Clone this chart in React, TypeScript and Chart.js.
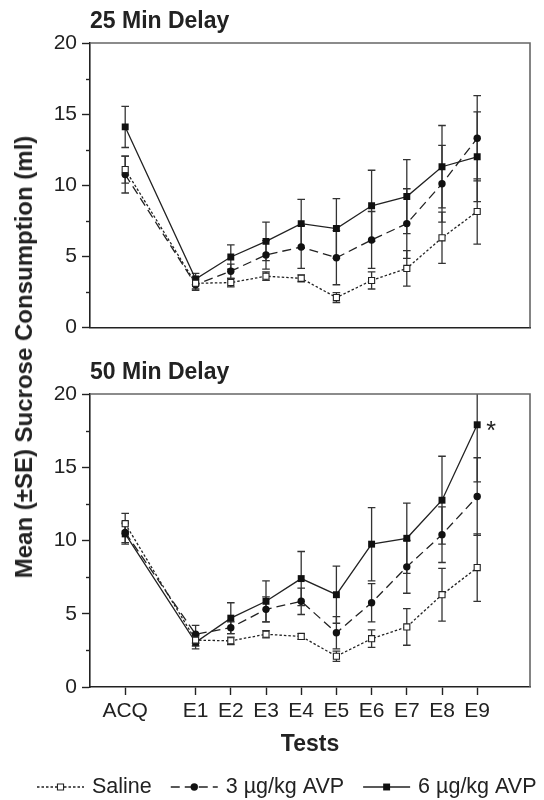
import React, { useEffect, useRef } from 'react';
import { Chart, registerables } from 'chart.js';

Chart.register(...registerables);

const FAMILY = '"Liberation Sans", Arial, Helvetica, sans-serif';
Chart.defaults.font.family = FAMILY;
Chart.defaults.color = '#222';

// ---------- data ----------
const tests = ['ACQ', 'E1', 'E2', 'E3', 'E4', 'E5', 'E6', 'E7', 'E8', 'E9'];
const testPositions = [0, 2, 3, 4, 5, 6, 7, 8, 9, 10];
const yTickValues = [0, 5, 10, 15, 20];
const yMinorTickValues = [2.5, 7.5, 12.5, 17.5];
const seriesNames = ['Saline', '3 µg/kg AVP', '6 µg/kg AVP'];
const panelTitles = ['25 Min Delay', '50 Min Delay'];
const yAxisTitle = 'Mean (±SE) Sucrose Consumption (ml)';
const xAxisTitle = 'Tests';

const delay25Saline = [11.1, 3.1, 3.15, 3.6, 3.45, 2.1, 3.3, 4.15, 6.3, 8.15];
const delay25SalineSE = [0.95, 0.4, 0.3, 0.3, 0.25, 0.35, 0.6, 1.25, 1.8, 2.3];
const delay25Avp3 = [10.75, 3.0, 3.95, 5.1, 5.65, 4.9, 6.15, 7.3, 10.1, 13.3];
const delay25Avp3SE = [1.3, 0.4, 0.5, 1.0, 1.5, 1.9, 2.0, 2.45, 2.7, 3.0];
const delay25Avp6 = [14.1, 3.4, 4.95, 6.05, 7.3, 6.95, 8.55, 9.2, 11.3, 12.0];
const delay25Avp6SE = [1.45, 0.4, 0.85, 1.35, 1.7, 2.1, 2.5, 2.6, 2.9, 3.15];

const delay50Saline = [11.15, 3.2, 3.15, 3.6, 3.45, 2.1, 3.3, 4.1, 6.3, 8.15];
const delay50SalineSE = [0.7, 0.4, 0.25, 0.25, 0.2, 0.35, 0.6, 1.25, 1.8, 2.3];
const delay50Avp3 = [10.55, 3.6, 4.05, 5.3, 5.85, 3.7, 5.75, 8.2, 10.4, 13.0];
const delay50Avp3SE = [0.7, 0.6, 0.4, 0.85, 0.9, 1.1, 1.3, 1.8, 1.9, 2.65];
const delay50Avp6 = [10.45, 3.05, 4.7, 5.85, 7.4, 6.3, 9.75, 10.15, 12.75, 17.9];
const delay50Avp6SE = [0.7, 0.45, 1.05, 1.4, 1.85, 1.95, 2.5, 2.4, 3.0, 3.9];

// significant difference marks in the 50 min panel: [series index, test]
const delay50Significant: [number, string][] = [[2, 'E9']];

// ---------- styles ----------
const INK = '#222';
const seriesStyles = [
  { borderDash: [2.5, 2], pointStyle: 'rect', pointRadius: 4.3, fill: '#fff', pointBorderWidth: 1.1 },
  { borderDash: [9, 5], pointStyle: 'circle', pointRadius: 3.7, fill: '#111', pointBorderWidth: 0 },
  { borderDash: [], pointStyle: 'rect', pointRadius: 4.9, fill: '#111', pointBorderWidth: 0 },
];

function makeDatasets(values: number[][], ses: number[][]) {
  return values.map((vals, s) => {
    const st = seriesStyles[s];
    return {
      label: seriesNames[s],
      data: testPositions.map((x, i) => ({ x, y: vals[i] })),
      se: ses[s],
      borderColor: INK,
      borderWidth: 1.3,
      borderDash: st.borderDash,
      pointStyle: st.pointStyle,
      pointRadius: st.pointRadius,
      pointBackgroundColor: st.fill,
      pointBorderColor: INK,
      pointBorderWidth: st.pointBorderWidth,
      tension: 0,
      fill: false,
    };
  });
}

// ---------- plugins ----------
const errorBarsPlugin = {
  id: 'errorBars',
  beforeDatasetsDraw(chart: any) {
    const { ctx, chartArea } = chart;
    const yScale = chart.scales.y;
    ctx.save();
    ctx.beginPath();
    ctx.rect(chartArea.left, chartArea.top, chartArea.right - chartArea.left, chartArea.bottom - chartArea.top);
    ctx.clip();
    ctx.strokeStyle = '#333';
    ctx.lineWidth = 1.3;
    ctx.setLineDash([]);
    chart.data.datasets.forEach((ds: any, di: number) => {
      const meta = chart.getDatasetMeta(di);
      ds.data.forEach((pt: any, i: number) => {
        const se = ds.se[i];
        const el = meta.data[i];
        const x = el.x;
        const yT = yScale.getPixelForValue(pt.y + se);
        const yB = yScale.getPixelForValue(pt.y - se);
        const hw = 3.8;
        ctx.beginPath();
        ctx.moveTo(x, yT);
        ctx.lineTo(x, yB);
        ctx.moveTo(x - hw, yT);
        ctx.lineTo(x + hw, yT);
        ctx.moveTo(x - hw, yB);
        ctx.lineTo(x + hw, yB);
        ctx.stroke();
      });
    });
    ctx.restore();
  },
};

const framePlugin = {
  id: 'frame',
  afterDraw(chart: any) {
    const { ctx, chartArea } = chart;
    const yScale = chart.scales.y;
    ctx.save();
    ctx.strokeStyle = '#666';
    ctx.lineWidth = 1.6;
    ctx.beginPath();
    ctx.moveTo(chartArea.left, chartArea.top);
    ctx.lineTo(chartArea.right, chartArea.top);
    ctx.lineTo(chartArea.right, chartArea.bottom);
    ctx.stroke();
    ctx.strokeStyle = INK;
    ctx.lineWidth = 1.4;
    yMinorTickValues.forEach((v) => {
      const y = Math.round(yScale.getPixelForValue(v)) + 0.5;
      ctx.beginPath();
      ctx.moveTo(chartArea.left - 4, y);
      ctx.lineTo(chartArea.left, y);
      ctx.stroke();
    });
    ctx.restore();
  },
};

const sigPlugin = {
  id: 'sigMarks',
  afterDatasetsDraw(chart: any, _args: any, opts: any) {
    const marks = (opts && opts.marks) || [];
    if (!marks.length) return;
    const { ctx } = chart;
    ctx.save();
    ctx.fillStyle = INK;
    ctx.font = `25px ${FAMILY}`;
    ctx.textAlign = 'left';
    ctx.textBaseline = 'alphabetic';
    marks.forEach(([s, test]: [number, string]) => {
      const idx = tests.indexOf(test);
      const el = chart.getDatasetMeta(s).data[idx];
      ctx.fillText('*', el.x + 9, el.y + 14);
    });
    ctx.restore();
  },
};

const lineLegendPlugin = {
  id: 'lineLegend',
  afterDraw(chart: any, _args: any, opts: any) {
    if (!opts || !opts.display) return;
    const { ctx } = chart;
    const y = opts.y;
    let x = opts.x;
    ctx.save();
    ctx.font = `21.5px ${FAMILY}`;
    ctx.textBaseline = 'middle';
    ctx.textAlign = 'left';
    chart.data.datasets.forEach((ds: any) => {
      const len = opts.lineLength;
      ctx.strokeStyle = ds.borderColor;
      ctx.lineWidth = ds.borderWidth;
      ctx.setLineDash(ds.borderDash || []);
      ctx.beginPath();
      ctx.moveTo(x, y);
      ctx.lineTo(x + len, y);
      ctx.stroke();
      ctx.setLineDash([]);
      const cx = x + len / 2;
      const r = ds.pointRadius;
      ctx.fillStyle = ds.pointBackgroundColor;
      ctx.beginPath();
      if (ds.pointStyle === 'circle') {
        ctx.arc(cx, y, r, 0, Math.PI * 2);
      } else {
        const h = r * Math.SQRT1_2;
        ctx.rect(cx - h, y - h, 2 * h, 2 * h);
      }
      ctx.fill();
      if (ds.pointBorderWidth > 0) {
        ctx.lineWidth = ds.pointBorderWidth;
        ctx.strokeStyle = ds.pointBorderColor;
        ctx.stroke();
      }
      ctx.fillStyle = INK;
      const tx = x + len + opts.textGap;
      ctx.fillText(ds.label, tx, y);
      x = tx + ctx.measureText(ds.label).width + opts.itemGap;
    });
    ctx.restore();
  },
};

function makeConfig(panel: 0 | 1): any {
  const isBottom = panel === 1;
  const values = isBottom
    ? [delay50Saline, delay50Avp3, delay50Avp6]
    : [delay25Saline, delay25Avp3, delay25Avp6];
  const ses = isBottom
    ? [delay50SalineSE, delay50Avp3SE, delay50Avp6SE]
    : [delay25SalineSE, delay25Avp3SE, delay25Avp6SE];
  return {
    type: 'line',
    data: { datasets: makeDatasets(values, ses) },
    plugins: [errorBarsPlugin, framePlugin, sigPlugin, lineLegendPlugin],
    options: {
      animation: false,
      responsive: false,
      maintainAspectRatio: false,
      events: [],
      layout: { padding: { left: 0, right: 14, top: 0, bottom: isBottom ? 35 : 9.5 } },
      plugins: {
        legend: { display: false },
        tooltip: { enabled: false },
        title: {
          display: true,
          text: panelTitles[panel],
          align: 'start',
          fullSize: false,
          color: INK,
          font: { size: 23, weight: 'bold', family: FAMILY, lineHeight: 1.2 },
          padding: isBottom ? { top: 14.2, bottom: 7.2 } : { top: 7.6, bottom: 7.8 },
        },
        sigMarks: { marks: isBottom ? delay50Significant : [] },
        lineLegend: { display: isBottom, x: 37, y: 442, lineLength: 47, textGap: 8, itemGap: 19 },
      },
      scales: {
        x: {
          type: 'linear',
          min: -1,
          max: 11.5,
          bounds: 'data',
          afterBuildTicks(scale: any) {
            scale.ticks = testPositions.map((value) => ({ value }));
          },
          afterFit(scale: any) {
            scale.height = isBottom ? 78 : 0;
          },
          border: { display: true, color: INK, width: 1.6 },
          grid: {
            display: true,
            drawOnChartArea: false,
            drawTicks: isBottom,
            tickLength: 8,
            tickColor: INK,
            tickWidth: 1.4,
          },
          ticks: {
            display: isBottom,
            autoSkip: false,
            maxRotation: 0,
            minRotation: 0,
            padding: 4,
            color: INK,
            font: { size: 21, family: FAMILY },
            callback: (value: number) => {
              const i = testPositions.indexOf(Number(value));
              return i >= 0 ? tests[i] : '';
            },
          },
          title: {
            display: isBottom,
            text: xAxisTitle,
            color: INK,
            font: { size: 23, weight: 'bold', family: FAMILY, lineHeight: 1.2 },
            padding: { top: 0, bottom: 7 },
          },
        },
        y: {
          type: 'linear',
          min: 0,
          max: 20,
          afterBuildTicks(scale: any) {
            scale.ticks = yTickValues.map((value) => ({ value }));
          },
          afterFit(scale: any) {
            scale.width = 90;
          },
          border: { display: true, color: INK, width: 1.6 },
          grid: {
            display: true,
            drawOnChartArea: false,
            drawTicks: true,
            tickLength: 8,
            tickColor: INK,
            tickWidth: 1.4,
          },
          ticks: {
            padding: 5,
            color: INK,
            font: { size: 21, family: FAMILY },
            callback: (value: number) => String(value),
          },
        },
      },
    },
  };
}

function Panel({ panel, top, height }: { panel: 0 | 1; top: number; height: number }) {
  const ref = useRef<HTMLCanvasElement>(null);
  useEffect(() => {
    if (!ref.current) return;
    const chart = new Chart(ref.current, makeConfig(panel));
    return () => chart.destroy();
  }, [panel]);
  return (
    <canvas
      ref={ref}
      width={544}
      height={height}
      style={{ position: 'absolute', left: 0, top, width: 544, height, display: 'block' }}
    />
  );
}

export default function App() {
  return (
    <div style={{ position: 'absolute', left: 0, top: 0, width: 544, height: 800, background: '#fff', overflow: 'hidden' }}>
      <Panel panel={0} top={0} height={345} />
      <Panel panel={1} top={345} height={455} />
      <div
        style={{
          position: 'absolute',
          left: 24,
          top: 357,
          transform: 'translate(-50%, -50%) rotate(-90deg)',
          whiteSpace: 'nowrap',
          font: `bold 24px ${FAMILY}`,
          color: INK,
          lineHeight: 1,
        }}
      >
        {yAxisTitle}
      </div>
    </div>
  );
}
